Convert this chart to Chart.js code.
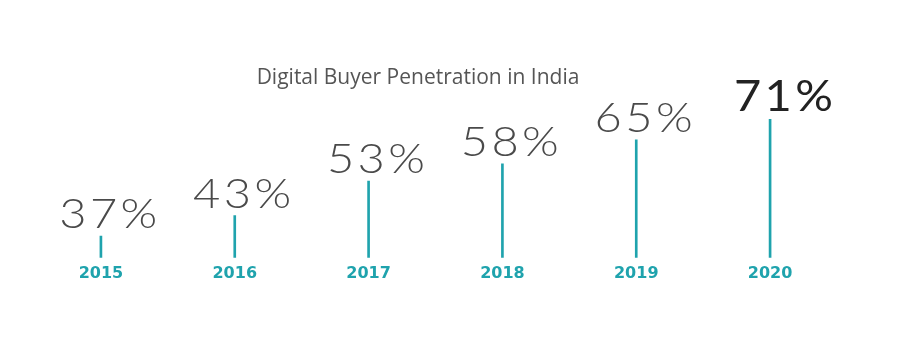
<!DOCTYPE html>
<html>
<head>
<meta charset="utf-8">
<script src="https://cdn.jsdelivr.net/npm/chart.js@4"></script>
<style>
  html, body { margin: 0; padding: 0; background: #fff; }
  #wrap { width: 897px; height: 360px; }
</style>
</head>
<body>
<div id="wrap"><canvas id="chart"></canvas></div>
<script>
// data
const years = ["2015", "2016", "2017", "2018", "2019", "2020"];
const penetration = [37, 43, 53, 58, 65, 71];
const chartTitle = "Digital Buyer Penetration in India";

const teal = "#1fa3ad";

// title + big % labels above each line
const valueLabels = {
  id: "valueLabels",
  afterDatasetsDraw(chart) {
    const ctx = chart.ctx;
    const meta = chart.getDatasetMeta(0);
    ctx.save();
    ctx.textAlign = "center";
    ctx.textBaseline = "middle";
    ctx.font = "400 21px 'Open Sans'";
    ctx.fillStyle = "#555";
    ctx.fillText(chartTitle, 418, 78);

    ctx.textBaseline = "alphabetic";
    ctx.letterSpacing = "3px";
    meta.data.forEach((bar, i) => {
      const last = i === penetration.length - 1;
      ctx.font = (last ? "400" : "300") + " 42px Lato";
      ctx.fillStyle = last ? "#222" : "#4a4a4a";
      // labels sit a little right of their line; face is wider than Lato
      ctx.save();
      ctx.translate(bar.x + (last ? 15 : 9), bar.y - 8);
      ctx.scale(1.12, 1);
      ctx.fillText(penetration[i] + "%", 0, 0);
      ctx.restore();
    });
    ctx.restore();
  }
};

new Chart(document.getElementById("chart"), {
  type: "bar",
  data: {
    labels: years,
    datasets: [{
      data: penetration,
      backgroundColor: teal,
      barThickness: 2
    }]
  },
  options: {
    responsive: true,
    maintainAspectRatio: false,
    animation: false,
    layout: { padding: { left: 34, right: 60, top: 105.5, bottom: 71 } },
    plugins: {
      legend: { display: false },
      tooltip: { enabled: false },
      title: { display: false }
    },
    scales: {
      x: {
        grid: { display: false, drawTicks: false },
        border: { display: false },
        ticks: {
          color: teal,
          font: { family: "DejaVu Sans", size: 16, weight: "bold" },
          padding: 6
        }
      },
      y: {
        display: false,
        min: 30.7,
        max: 75
      }
    }
  },
  plugins: [valueLabels]
});
</script>
</body>
</html>
